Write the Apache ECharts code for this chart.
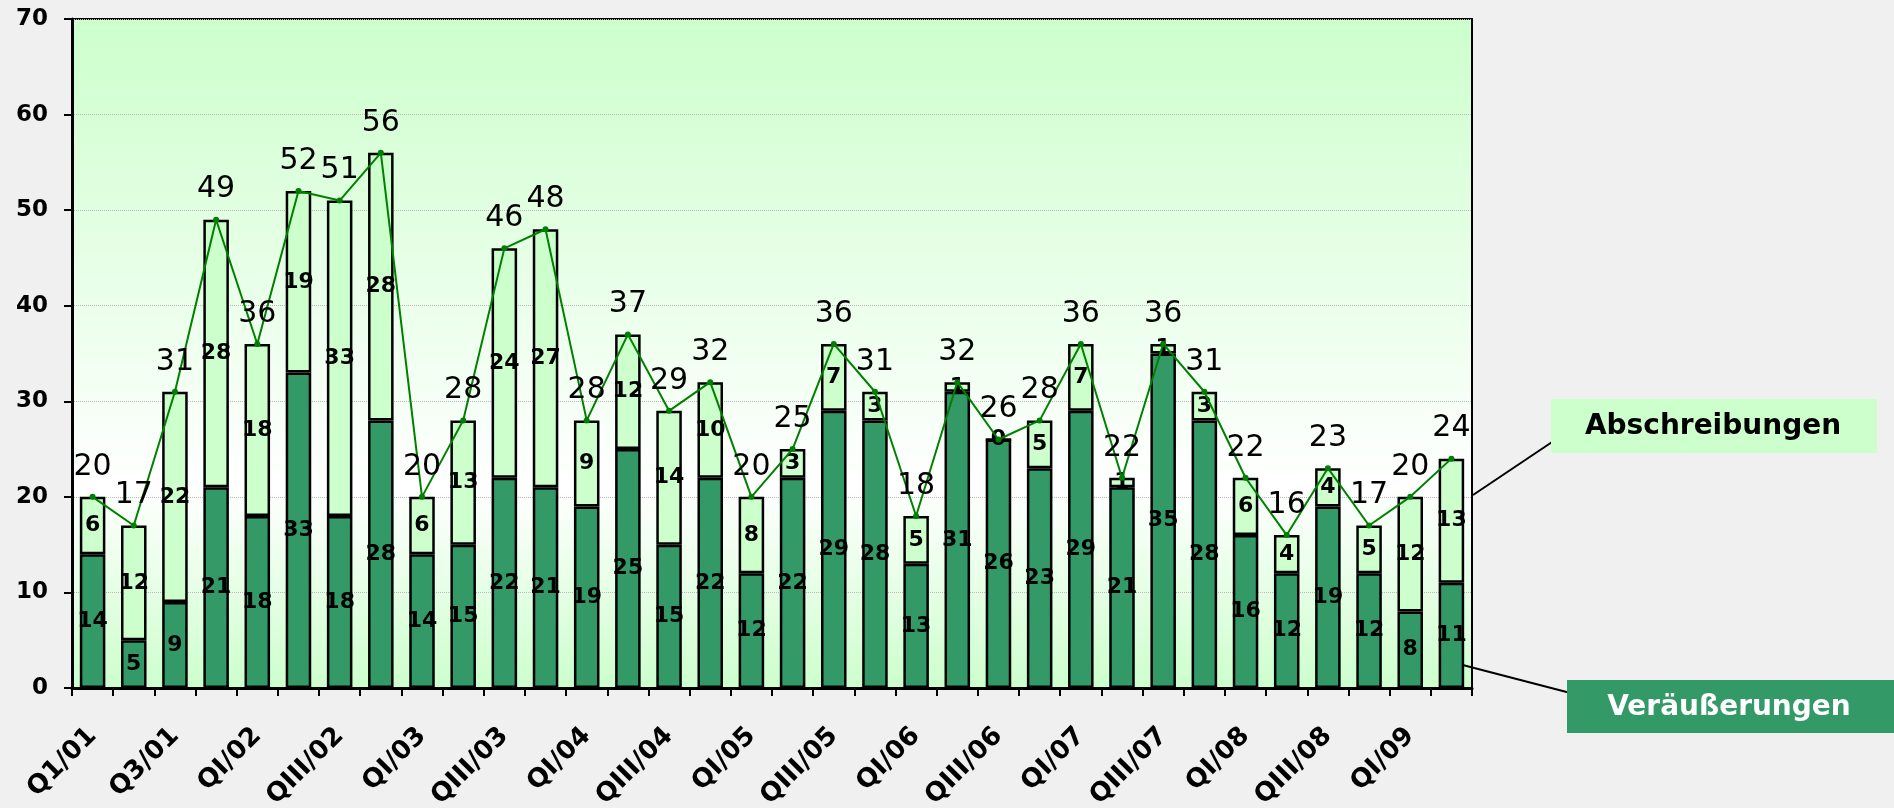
<!DOCTYPE html>
<html>
<head>
    <meta http-equiv="Content-Type" content="text/html; charset=utf-8" />
    <title>Veräußerungen / Abschreibungen</title>
    <script src="https://cdn.jsdelivr.net/npm/echarts@6/dist/echarts.min.js"></script>
    <style>
        html, body { margin: 0; padding: 0; background: #f0f0f0; }
    </style>
</head>
<body>
    <div id="main" style="width: 1894px;height:808px;"></div>
    <script type="text/javascript">

    // Quartale (x-Achse)
    var categories = [
        'Q1/01', 'Q2/01', 'Q3/01', 'Q4/01',
        'QI/02', 'QII/02', 'QIII/02', 'QIV/02',
        'QI/03', 'QII/03', 'QIII/03', 'QIV/03',
        'QI/04', 'QII/04', 'QIII/04', 'QIV/04',
        'QI/05', 'QII/05', 'QIII/05', 'QIV/05',
        'QI/06', 'QII/06', 'QIII/06', 'QIV/06',
        'QI/07', 'QII/07', 'QIII/07', 'QIV/07',
        'QI/08', 'QII/08', 'QIII/08', 'QIV/08',
        'QI/09', 'QII/09'
    ];

    // dunkelgrün, unten
    var veraeusserungen = [
        14, 5, 9, 21, 18, 33, 18, 28, 14, 15, 22, 21, 19, 25, 15, 22, 12,
        22, 29, 28, 13, 31, 26, 23, 29, 21, 35, 28, 16, 12, 19, 12, 8, 11
    ];

    // hellgrün, oben
    var abschreibungen = [
        6, 12, 22, 28, 18, 19, 33, 28, 6, 13, 24, 27, 9, 12, 14, 10, 8,
        3, 7, 3, 5, 1, 0, 5, 7, 1, 1, 3, 6, 4, 4, 5, 12, 13
    ];

    // Summe (Linie)
    var gesamt = [
        20, 17, 31, 49, 36, 52, 51, 56, 20, 28, 46, 48, 28, 37, 29, 32, 20,
        25, 36, 31, 18, 32, 26, 28, 36, 22, 36, 31, 22, 16, 23, 17, 20, 24
    ];

    var FONT = 'DejaVu Sans';

    var myChart = echarts.init(document.getElementById('main'));

    var segLabel = {
        show: true,
        position: 'inside',
        color: '#000',
        fontFamily: FONT,
        fontWeight: 'bold',
        fontSize: 22
    };

    option = {
        backgroundColor: '#f0f0f0',
        animation: false,
        grid: {
            left: 72,
            right: 422,
            top: 19,
            bottom: 120,
            outerBoundsMode: 'none',
            show: true,
            borderColor: '#000',
            borderWidth: 2,
            backgroundColor: new echarts.graphic.LinearGradient(0, 0, 0, 1, [
                { offset: 0, color: '#ccffcc' },
                { offset: 0.70, color: '#ffffff' },
                { offset: 1, color: '#ccffcc' }
            ])
        },
        xAxis: {
            type: 'category',
            data: categories,
            axisLine: { lineStyle: { color: '#000', width: 3 } },
            axisTick: { show: true, interval: 0, length: 8, lineStyle: { color: '#000', width: 2 } },
            axisLabel: {
                interval: 1,
                rotate: 45,
                margin: 44,
                color: '#000',
                fontFamily: FONT,
                fontWeight: 'bold',
                fontSize: 26
            }
        },
        yAxis: {
            type: 'value',
            min: 0,
            max: 70,
            interval: 10,
            axisLine: { show: true, lineStyle: { color: '#000', width: 3 } },
            axisTick: { show: true, length: 8, lineStyle: { color: '#000', width: 2 } },
            axisLabel: {
                margin: 24,
                color: '#000',
                fontFamily: FONT,
                fontWeight: 'bold',
                fontSize: 23
            },
            splitLine: { show: true, lineStyle: { color: '#bbb', type: 'dotted', width: 1 } }
        },
        series: [
            {
                name: 'Veräußerungen',
                type: 'bar',
                stack: 'summe',
                data: veraeusserungen,
                barWidth: '62%',
                itemStyle: { color: '#339966', borderColor: '#000', borderWidth: 2.5 },
                label: segLabel
            },
            {
                name: 'Abschreibungen',
                type: 'bar',
                stack: 'summe',
                data: abschreibungen,
                barWidth: '62%',
                itemStyle: { color: '#ccffcc', borderColor: '#000', borderWidth: 2.5 },
                label: segLabel
            },
            {
                name: 'Summe',
                type: 'line',
                data: gesamt,
                z: 5,
                symbol: 'circle',
                symbolSize: 6,
                lineStyle: { color: '#008000', width: 2 },
                itemStyle: { color: '#008000' },
                label: {
                    show: true,
                    position: 'top',
                    distance: 12,
                    color: '#000',
                    fontFamily: FONT,
                    fontSize: 30
                }
            }
        ],
        graphic: [
            // Abschreibungen-Kasten
            { type: 'line', shape: { x1: 1567, y1: 432, x2: 1473, y2: 495 }, style: { stroke: '#000', lineWidth: 2 } },
            { type: 'rect', shape: { x: 1551, y: 399, width: 326, height: 54 }, style: { fill: '#ccffcc' } },
            {
                type: 'text', x: 1713, y: 427,
                style: { text: 'Abschreibungen', fill: '#000', font: 'bold 28px "DejaVu Sans"', align: 'center', verticalAlign: 'middle' }
            },
            // Veräußerungen-Kasten
            { type: 'line', shape: { x1: 1582, y1: 696, x2: 1455, y2: 663 }, style: { stroke: '#000', lineWidth: 2 } },
            { type: 'rect', shape: { x: 1567, y: 680, width: 327, height: 53 }, style: { fill: '#339966' } },
            {
                type: 'text', x: 1729, y: 708,
                style: { text: 'Veräußerungen', fill: '#fff', font: 'bold 28px "DejaVu Sans"', align: 'center', verticalAlign: 'middle' }
            }
        ]
    };

    myChart.setOption(option);
    </script>
</body>
</html>
